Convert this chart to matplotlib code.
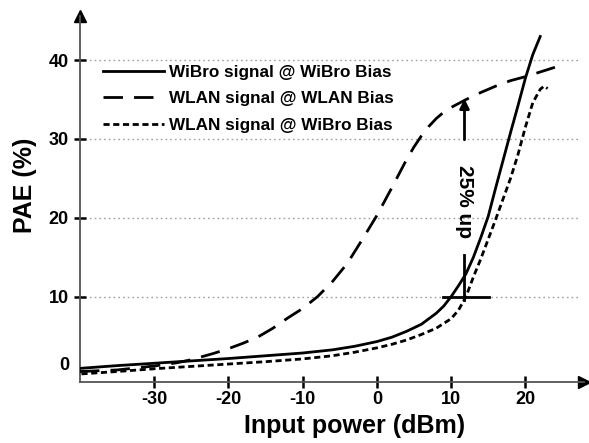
import matplotlib
matplotlib.use('Agg')
import matplotlib.pyplot as plt
from matplotlib.transforms import ScaledTranslation

plt.rcParams['font.family'] = ['Liberation Sans', 'DejaVu Sans']
plt.rcParams['font.weight'] = 'bold'
plt.rcParams['axes.unicode_minus'] = False

# ---- data ----
wibro_x = [-40, -35, -30, -25, -20, -15, -10, -6, -3, 0, 2, 4, 6, 8, 9, 10, 11, 12, 13, 14,
           15, 16, 17, 18, 19, 20, 21, 22]
wibro_y = [0.9, 1.25, 1.55, 1.85, 2.15, 2.5, 2.85, 3.25, 3.7, 4.3, 4.85, 5.6, 6.5, 7.9, 8.8,
           10.0, 11.4, 12.9, 15.0, 17.5, 20.2, 23.8, 27.3, 30.8, 34.2, 37.7, 40.7, 43.0]

wlan_x = [-40, -35, -30, -27, -25, -22, -20, -18, -16, -14, -12, -10, -8, -6, -4, -2, 0, 2,
          4, 5, 6, 7, 8, 9, 10, 12, 14, 16, 18, 20, 22, 24]
wlan_y = [0.5, 0.7, 1.2, 1.6, 2.0, 2.8, 3.4, 4.1, 4.9, 6.0, 7.3, 8.5, 10.0, 11.9, 14.2, 17.2,
          20.3, 23.8, 27.4, 29.0, 30.4, 31.6, 32.6, 33.4, 34.0, 35.0, 35.9, 36.7, 37.4, 37.9,
          38.5, 39.1]

wlanwb_x = [-39.8, -35, -30, -25, -20, -15, -10, -6, -3, 0, 2, 4, 6, 8, 10, 11, 12, 13, 14,
            15, 16, 17, 18, 19, 20, 21, 22, 22.5, 23]
wlanwb_y = [0.2, 0.5, 0.85, 1.15, 1.45, 1.75, 2.1, 2.5, 2.95, 3.5, 3.95, 4.5, 5.2, 6.0, 7.2,
            8.3, 10.0, 12.5, 14.8, 17.3, 19.8, 22.4, 25.0, 28.0, 31.5, 34.6, 36.3, 36.7, 36.4]

series_labels = ['WiBro signal @ WiBro Bias', 'WLAN signal @ WLAN Bias', 'WLAN signal @ WiBro Bias']

xtick_vals = [-30, -20, -10, 0, 10, 20]
xtick_labels = ['-30', '-20', '-10', '0', '10', '20']
ytick_vals = [0, 10, 20, 30, 40]
ytick_labels = ['0', '10', '20', '30', '40']
grid_vals = [10, 20, 30, 40]

# annotation (25% up marker)
ann_x = 11.8
ann_bar_y = 10
ann_bar_x = [8.9, 15.1]
ann_vline_y = [9.6, 15.3]
ann_arrow_y = [29.9, 35.1]
ann_text_y = 22.1

# ---- figure ----
W, H = 589, 443
fig = plt.figure(figsize=(W / 100, H / 100), dpi=100)
L, R, B, T = 80, 584, 381.7, 16
ax = fig.add_axes([L / W, 1 - B / H, (R - L) / W, (B - T) / H])
ax.set_xlim(-40.0, 27.9)
ax.set_ylim(-0.79, 45.6)

ax.hlines(grid_vals, -40, 27.3, colors='#a0a0a0', linestyles=[(0, (1.2, 2.2))], lw=1.0, zorder=1)

lw = 2.0
ax.plot(wibro_x, wibro_y, color='black', lw=lw, label=series_labels[0], zorder=3)
ax.plot(wlan_x, wlan_y, color='black', lw=lw, linestyle=(0, (7, 4)), label=series_labels[1], zorder=3)
ax.plot(wlanwb_x, wlanwb_y, color='black', lw=lw, linestyle=(0, (2.2, 1.3)), label=series_labels[2], zorder=3)

leg = ax.legend(loc='upper left', bbox_to_anchor=(0.0453, 0.866), frameon=False,
                prop={'size': 12.3, 'weight': 'bold'}, handlelength=3.6, handletextpad=0.25,
                labelspacing=0.66, borderpad=0, borderaxespad=0)

# annotation marks
ax.plot(ann_bar_x, [ann_bar_y, ann_bar_y], color='black', lw=2.0, zorder=4)
ax.plot([ann_x, ann_x], ann_vline_y, color='black', lw=2.0, zorder=4)
ax.annotate('', xy=(ann_x, ann_arrow_y[1]), xytext=(ann_x, ann_arrow_y[0]),
            arrowprops=dict(arrowstyle='-|>', color='black', lw=2.0, mutation_scale=14,
                            shrinkA=0, shrinkB=0), zorder=4)
ax.text(ann_x, ann_text_y, '25% up', rotation=270, ha='center', va='center',
        fontsize=15, fontweight='bold')

# axes styling
for s in ['top', 'right']:
    ax.spines[s].set_visible(False)
for s in ['left', 'bottom']:
    ax.spines[s].set_color('#555555')
    ax.spines[s].set_linewidth(1.3)
ax.plot([1], [0], marker='>', markersize=8, color='black', transform=ax.transAxes, clip_on=False)
ax.plot([0], [1], marker='^', markersize=8, color='black', transform=ax.transAxes, clip_on=False)

ax.set_xticks(xtick_vals, xtick_labels)
ax.set_yticks(ytick_vals, ytick_labels)
ax.tick_params(axis='both', direction='inout', length=8, width=1.8, labelsize=13, color='black')
ax.tick_params(axis='x', pad=3)
ax.tick_params(axis='y', pad=4)
for lab in ax.get_xticklabels() + ax.get_yticklabels():
    lab.set_fontweight('bold')

# "0" label sits a little above the origin in the reference, no tick mark
t0 = ax.yaxis.get_major_ticks()[0]
t0.tick1line.set_visible(False)
t0.label1.set_transform(t0.label1.get_transform() + ScaledTranslation(0, 12 / 100, fig.dpi_scale_trans))

ax.set_xlabel('Input power (dBm)', fontsize=18, fontweight='bold')
ax.xaxis.set_label_coords((355 - L) / (R - L), (B - 426) / (B - T))
ax.xaxis.label.set_va('center')
ax.set_ylabel('PAE (%)', fontsize=18, fontweight='bold')
ax.yaxis.set_label_coords((25 - L) / (R - L), (B - 185) / (B - T))
ax.yaxis.label.set_va('center')
ax.yaxis.label.set_ha('center')

fig.savefig('out.png', dpi=100)
